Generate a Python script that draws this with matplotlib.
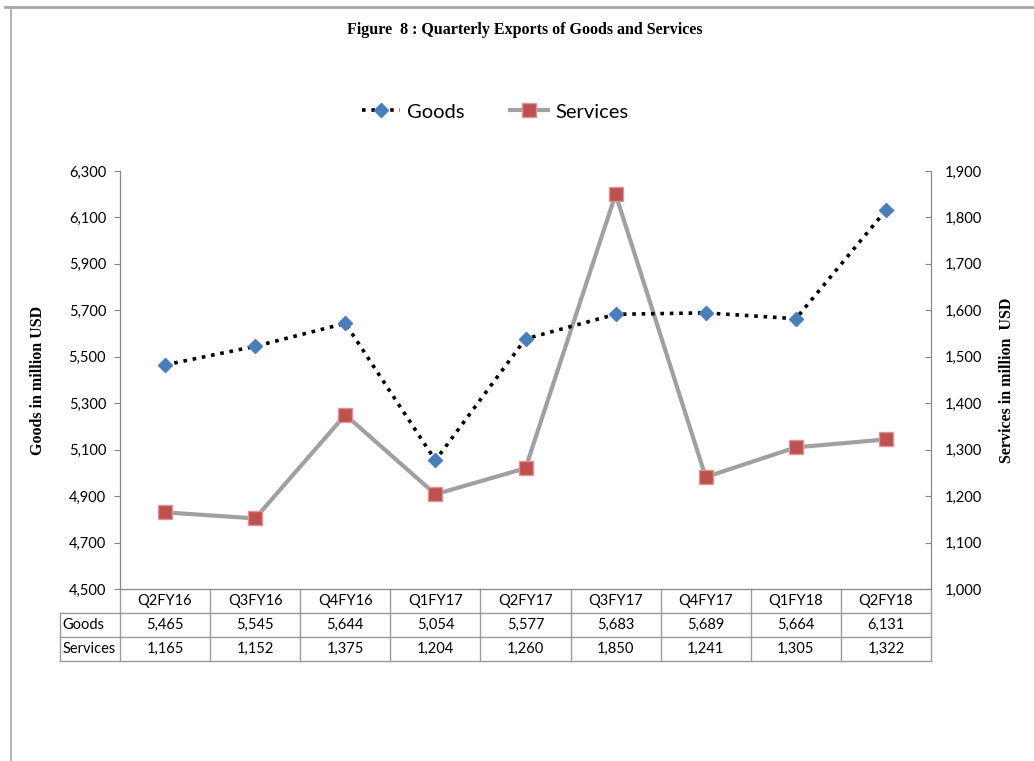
import matplotlib.pyplot as plt
from matplotlib.lines import Line2D
from matplotlib.transforms import blended_transform_factory

quarters = ["Q2FY16", "Q3FY16", "Q4FY16", "Q1FY17", "Q2FY17",
            "Q3FY17", "Q4FY17", "Q1FY18", "Q2FY18"]
goods = [5465, 5545, 5644, 5054, 5577, 5683, 5689, 5664, 6131]
services = [1165, 1152, 1375, 1204, 1260, 1850, 1241, 1305, 1322]

goods_ticks = list(range(4500, 6301, 200))
services_ticks = list(range(1000, 1901, 100))

sans = "Lato"
serif = "Liberation Serif"
axis_grey = "#868686"

fig = plt.figure(figsize=(10.34, 7.61), dpi=100)
ax = fig.add_axes([120 / 1034, 1 - 589 / 761, 811 / 1034, 418 / 761])
ax2 = ax.twinx()

x = list(range(len(quarters)))

# services on the secondary axis
ax2.plot(x, services, color="#a0a0a0", lw=3, zorder=2)
ax2.plot(x, services, ls="none", marker="s", ms=10, mfc="#c0504d",
         mec="#d99694", mew=1, zorder=3)

ax.set_zorder(ax2.get_zorder() + 1)
ax.patch.set_visible(False)
ax.plot(x, goods, color="black", ls=(0, (1, 1.6)), lw=2.6, zorder=2)
ax.plot(x, goods, ls="none", marker="D", ms=7, mfc="#4a7ebb",
        mec="#4a7ebb", zorder=3)

ax.set_xlim(-0.5, len(quarters) - 0.5)
ax.set_ylim(4500, 6300)
ax2.set_ylim(1000, 1900)
ax.set_yticks(goods_ticks)
ax.set_yticklabels([f"{v:,}" for v in goods_ticks], fontsize=10.5, family=sans)
ax2.set_yticks(services_ticks)
ax2.set_yticklabels([f"{v:,}" for v in services_ticks], fontsize=10.5, family=sans)
ax.set_xticks([])

for a in (ax, ax2):
    a.spines["top"].set_visible(False)
    for s in ("left", "right", "bottom"):
        a.spines[s].set_color(axis_grey)
ax.tick_params(axis="y", direction="out", length=4, color=axis_grey, pad=6)
ax2.tick_params(axis="y", direction="in", length=4, color=axis_grey, pad=10)

ax.set_ylabel("Goods in million USD", family=serif, fontweight="bold",
              fontsize=11.5, labelpad=16)
ax2.set_ylabel("Services in million  USD", family=serif, fontweight="bold",
               fontsize=11.5, labelpad=12)

# data table below the plot
trans = blended_transform_factory(ax.transData, ax.transAxes)
rh = 24 / 418
tbl = "#9a9a9a"
n = len(quarters)
left_lbl = -0.5 - 60 / 90.1
for i in range(n + 1):
    ax.add_line(Line2D([i - 0.5, i - 0.5], [0, -3 * rh], transform=trans,
                       color=tbl, lw=1, clip_on=False))
ax.add_line(Line2D([left_lbl, left_lbl], [-rh, -3 * rh], transform=trans,
                   color=tbl, lw=1, clip_on=False))
for r in (1, 2, 3):
    ax.add_line(Line2D([left_lbl, n - 0.5], [-r * rh, -r * rh], transform=trans,
                       color=tbl, lw=1, clip_on=False))
for i, q in enumerate(quarters):
    ax.text(i, -0.5 * rh, q, transform=trans, ha="center", va="center",
            fontsize=10.5, family=sans)
    ax.text(i, -1.5 * rh, f"{goods[i]:,}", transform=trans, ha="center",
            va="center", fontsize=10.5, family=sans)
    ax.text(i, -2.5 * rh, f"{services[i]:,}", transform=trans, ha="center",
            va="center", fontsize=10.5, family=sans)
ax.text(left_lbl + 0.03, -1.5 * rh, "Goods", transform=trans, ha="left",
        va="center", fontsize=10.5, family=sans)
ax.text(left_lbl + 0.03, -2.5 * rh, "Services", transform=trans, ha="left",
        va="center", fontsize=10.5, family=sans)

# legend
handles = [
    Line2D([], [], color="black", ls=(0, (1, 1.6)), lw=2.6, marker="D", ms=7,
           mfc="#4a7ebb", mec="#4a7ebb"),
    Line2D([], [], color="#a0a0a0", lw=3, marker="s", ms=10, mfc="#c0504d",
           mec="#d99694"),
]
fig.legend(handles, ["Goods", "Services"], loc="center",
           bbox_to_anchor=(495 / 1034, 1 - 112 / 761), ncol=2, frameon=False,
           prop={"family": sans, "size": 14.5}, handlelength=1.9,
           columnspacing=2.25, handletextpad=0.35)

fig.text(525 / 1034, 1 - 30 / 761, "Figure  8 : Quarterly Exports of Goods and Services",
         ha="center", va="center", family=serif, fontweight="bold", fontsize=11.5)

# outer frame (top and left edges visible)
fig.add_artist(Line2D([5 / 1034, 1], [1 - 7 / 761, 1 - 7 / 761],
                      color="#a6a6a6", lw=2))
fig.add_artist(Line2D([11 / 1034, 11 / 1034], [0, 1 - 7 / 761],
                      color="#a6a6a6", lw=1.2))

fig.savefig("out.png", dpi=100)
